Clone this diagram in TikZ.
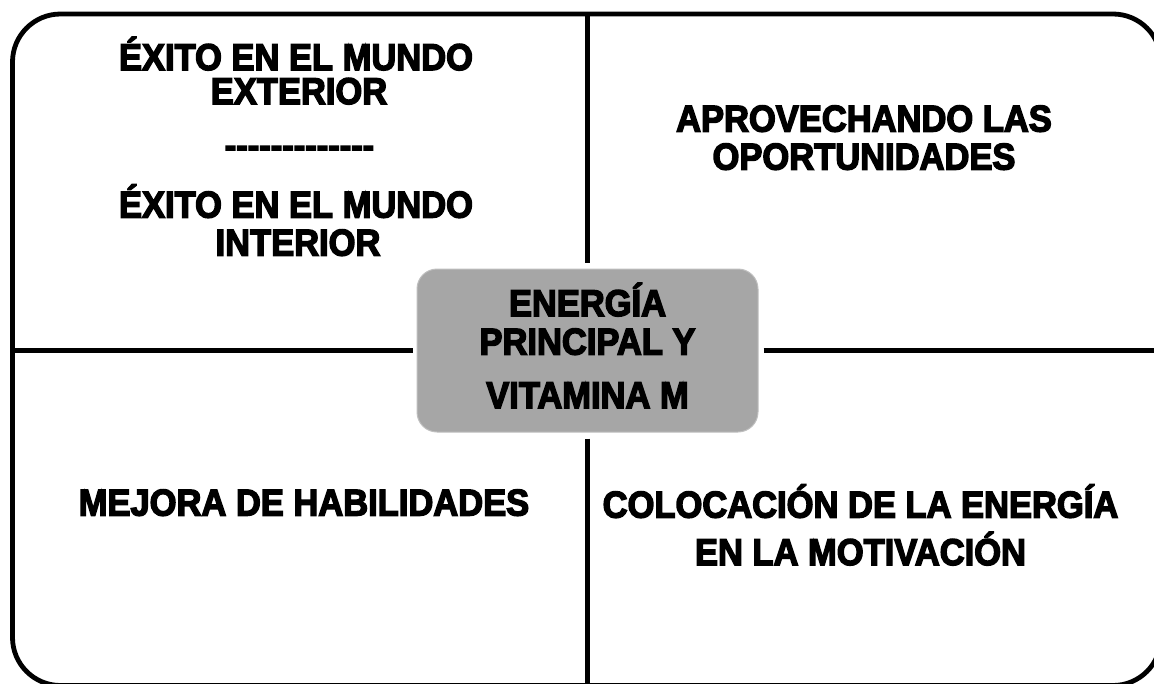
\documentclass[tikz,border=0pt]{standalone}
\usepackage{fontspec}
\newfontfamily\heavy[FakeBold=4]{Liberation Sans Bold}
\definecolor{coregray}{HTML}{A6A6A6}
\definecolor{coreedge}{HTML}{BFBFBF}
\newcommand\tallbox[1]{\scalebox{1}[1.08]{#1}}
\begin{document}
\begin{tikzpicture}[x=1pt,y=-1pt,
  frame/.style={line width=4.8pt, rounded corners=48pt},
  divider/.style={line width=4.8pt},
  corebox/.style={fill=coregray, draw=coreedge, line width=1pt, rounded corners=20pt,
    minimum width=341pt, minimum height=163pt, inner sep=0pt},
  txt/.style={font=\heavy\fontsize{34.5}{34.5}\selectfont, inner sep=0pt, anchor=base}]
\useasboundingbox (0,0) rectangle (1154,683);
\clip (0,0) rectangle (1154,683);
\draw[frame] (12.5,14) rectangle (1161,685.5);
\node[corebox] (core) at (587.5,350.5) {};
\coordinate (topend) at (587.5,14);
\coordinate (botend) at (587.5,690);
\coordinate (leftend) at (12.5,350.5);
\coordinate (rightend) at (1161,350.5);
\draw[divider, shorten <=6pt] (core.north) -- (topend);
\draw[divider, shorten <=6pt] (core.south) -- (botend);
\draw[divider, shorten <=4pt] (core.west) -- (leftend);
\draw[divider, shorten <=5pt] (core.east) -- (rightend);
% top left
\node[txt] (tl1) at (296,70) {\tallbox{ÉXITO EN EL MUNDO}};
\node[txt] (tl2) at (299,104) {\tallbox{EXTERIOR}};
\node[txt] (tl3) at (299.5,157) {-{}-{}-{}-{}-{}-{}-{}-{}-{}-{}-{}-{}-};
\node[txt] (tl4) at (296,217.5) {\tallbox{ÉXITO EN EL MUNDO}};
\node[txt] (tl5) at (298,255.5) {\tallbox{INTERIOR}};
% top right
\node[txt] (tr1) at (864,131.5) {\tallbox{APROVECHANDO LAS}};
\node[txt] (tr2) at (864,169.5) {\tallbox{OPORTUNIDADES}};
% center
\node[txt] (c1) at (587.5,316) {\tallbox{ENERGÍA}};
\node[txt] (c2) at (587.5,354.5) {\tallbox{PRINCIPAL Y}};
\node[txt] (c3) at (587.5,408) {\tallbox{VITAMINA M}};
% bottom left
\node[txt] (bl1) at (304,515.5) {\tallbox{MEJORA DE HABILIDADES}};
% bottom right
\node[txt] (br1) at (860.5,517.5) {\tallbox{COLOCACIÓN DE LA ENERGÍA}};
\node[txt] (br2) at (860.5,565) {\tallbox{EN LA MOTIVACIÓN}};
\end{tikzpicture}
\end{document}
